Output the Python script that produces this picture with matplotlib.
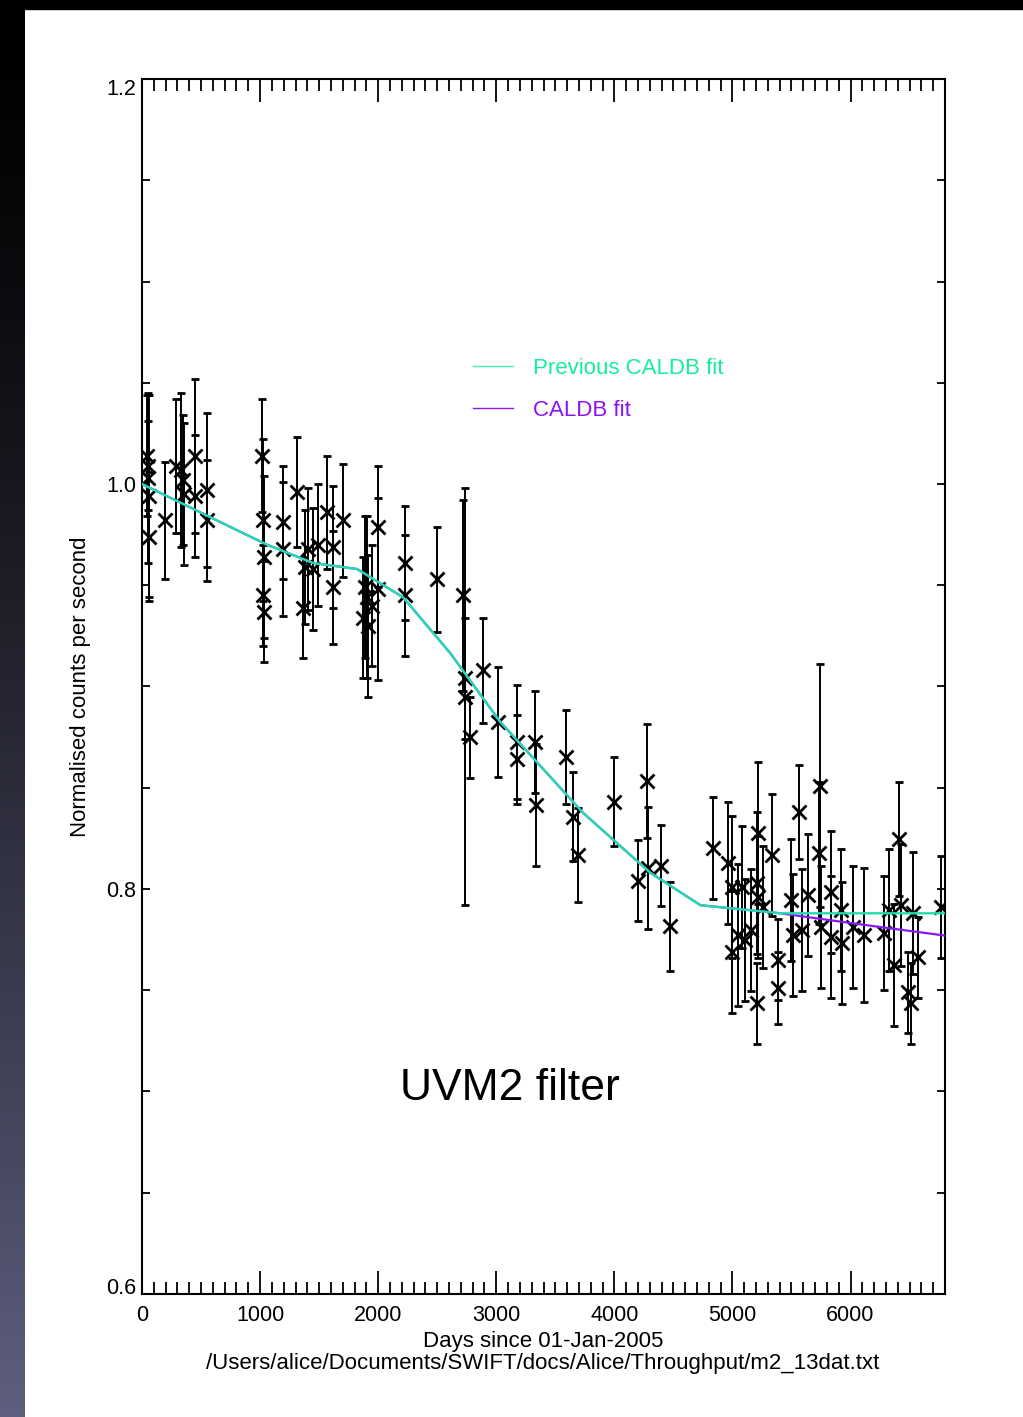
import numpy as np
import matplotlib.pyplot as plt
from matplotlib.patches import Rectangle
from matplotlib.lines import Line2D
from matplotlib.colors import LinearSegmentedColormap
from matplotlib.ticker import MultipleLocator

plt.rcParams['font.family'] = ['Liberation Sans', 'DejaVu Sans']

# measured throughput points: days since 01-Jan-2005, normalised rate, 1-sigma error
days = [45, 50, 55, 58, 62, 195, 288, 330, 347, 356, 449, 449, 551, 551,
        1020, 1025, 1030, 1028, 1032, 1195, 1195, 1314, 1364, 1407, 1381, 1449,
        1492, 1568, 1619, 1619, 1703,
        1890, 1873, 1915, 1949, 1907, 2000, 2000, 2229, 2229, 2500,
        2720, 2737, 2737, 2780, 2890, 3017, 3178, 3178, 3331, 3339, 3593, 3653,
        3695, 4000, 4203, 4280, 4288, 4398, 4475,
        4839, 4966, 5000, 5085, 5000, 5110, 5043, 5153, 5220, 5212, 5220, 5212,
        5339, 5263, 5382, 5382, 5492, 5517, 5560, 5593, 5636, 5738, 5729, 5831,
        5746, 5831, 5916, 5932, 6017, 6110, 6280, 6322, 6407, 6424, 6365, 6526,
        6568, 6483, 6509, 6763]
rate = [1.014, 1.009, 1.003, 0.994, 0.974, 0.982, 1.009, 1.007, 1.002, 0.995,
        1.014, 0.994, 0.997, 0.982,
        1.014, 0.982, 0.964, 0.945, 0.937, 0.981, 0.968, 0.996, 0.939, 0.968,
        0.959, 0.958, 0.970, 0.986, 0.969, 0.949, 0.982,
        0.949, 0.934, 0.930, 0.940, 0.944, 0.979, 0.948, 0.961, 0.945, 0.953,
        0.945, 0.904, 0.895, 0.875, 0.908, 0.8825, 0.8726, 0.864, 0.8726, 0.8415,
        0.8652, 0.8356, 0.8168, 0.843, 0.804, 0.8533, 0.8104, 0.8114, 0.7817,
        0.8202, 0.8128, 0.801, 0.801, 0.7689, 0.7748, 0.7773, 0.7798, 0.8277,
        0.803, 0.796, 0.7437, 0.8168, 0.7911, 0.765, 0.7511, 0.7946, 0.7773,
        0.838, 0.7798, 0.797, 0.8509, 0.8178, 0.7985, 0.7812, 0.7763, 0.7896,
        0.7733, 0.7812, 0.7773, 0.7783, 0.7896, 0.8247, 0.7921, 0.7625, 0.7882,
        0.7664, 0.7491, 0.7437, 0.7911]
err = [0.030, 0.022, 0.042, 0.050, 0.032, 0.029, 0.033, 0.038, 0.032, 0.035,
       0.038, 0.030, 0.038, 0.030,
       0.028, 0.040, 0.040, 0.025, 0.025, 0.028, 0.033, 0.027, 0.025, 0.030,
       0.028, 0.030, 0.030, 0.028, 0.030, 0.028, 0.028,
       0.035, 0.030, 0.035, 0.030, 0.040, 0.030, 0.045, 0.028, 0.030, 0.026,
       0.047, 0.030, 0.103, 0.020, 0.026, 0.027, 0.028, 0.022, 0.025, 0.030,
       0.023, 0.022, 0.023, 0.022, 0.020, 0.028, 0.030, 0.020, 0.022,
       0.025, 0.030, 0.035, 0.030, 0.030, 0.030, 0.035, 0.030, 0.035, 0.035,
       0.030, 0.020, 0.030, 0.030, 0.020, 0.018, 0.030, 0.030, 0.023, 0.030,
       0.030, 0.060, 0.035, 0.030, 0.030, 0.030, 0.030, 0.030, 0.030, 0.033,
       0.028, 0.030, 0.028, 0.030, 0.030, 0.030, 0.020, 0.020, 0.020, 0.025]

# fitted throughput curves
prev_days = [0, 1059, 1449, 1822, 2212, 2610, 3034, 3737, 4305, 4729, 5407, 6800]
prev_vals = [1.000, 0.970, 0.961, 0.958, 0.944, 0.9165, 0.8825, 0.8375, 0.808,
             0.792, 0.788, 0.788]
caldb_days = [0, 1059, 1449, 1822, 2212, 2610, 3034, 3737, 4305, 4729, 5407,
              5900, 6280, 6800]
caldb_vals = [1.000, 0.970, 0.961, 0.958, 0.944, 0.9165, 0.8825, 0.8375, 0.808,
              0.792, 0.788, 0.784, 0.781, 0.777]

yticks = [0.6, 0.8, 1.0, 1.2]

prev_col = '#22dcb0'
caldb_col = '#8a18f2'

fig = plt.figure(figsize=(10.23, 14.17), dpi=100)

# dark desktop border of the screenshot
side = fig.add_axes([0, 0, 25 / 1023, 1])
grad = np.linspace(0, 1, 256)[:, None] ** 1.3
side.imshow(grad, aspect='auto', extent=[0, 1, 0, 1], origin='upper',
            cmap=LinearSegmentedColormap.from_list('bg', ['#000000', '#5e5f7e']))
side.axis('off')
fig.patches.append(Rectangle((0, 1 - 9 / 1417), 1, 9 / 1417,
                             transform=fig.transFigure, color='black'))

ax = fig.add_axes([142 / 1023, 1 - 1294 / 1417, 803 / 1023, 1215 / 1417])
ax.errorbar(days, rate, yerr=err, fmt='x', color='black', ms=10, mew=2.0,
            elinewidth=1.4, capsize=3.0, capthick=1.4, zorder=2)
ax.plot(caldb_days, caldb_vals, color=caldb_col, lw=1.6, zorder=3)
ax.plot(prev_days, prev_vals, color=prev_col, lw=1.7, zorder=4)

ax.set_xlim(0, 6800)
ax.set_ylim(0.6, 1.2)
ax.xaxis.set_major_locator(MultipleLocator(1000))
ax.xaxis.set_minor_locator(MultipleLocator(100))
ax.set_yticks(yticks, [f'{v:.1f}' for v in yticks])
ax.yaxis.set_minor_locator(MultipleLocator(0.05))
ax.tick_params(which='both', direction='in', top=True, right=True,
               width=1.3, color='black', labelsize=15.5)
ax.tick_params(axis='x', which='major', length=16.5, pad=8)
ax.tick_params(axis='x', which='minor', length=8.5)
ax.tick_params(axis='y', which='both', length=6, pad=4)
ylabels = ax.get_yticklabels()
ylabels[0].set_va('baseline')
ylabels[-1].set_va('top')
for s in ax.spines.values():
    s.set_linewidth(1.5)

ax.set_ylabel('Normalised counts per second', fontsize=16)
ax.yaxis.set_label_coords(-0.063, 0.5)
ax.set_xlabel('Days since 01-Jan-2005', fontsize=16)
ax.xaxis.set_label_coords(0.5, -0.0305)
fig.text(543 / 1023, 1 - 1363 / 1417,
         '/Users/alice/Documents/SWIFT/docs/Alice/Throughput/m2_13dat.txt',
         ha='center', va='center', fontsize=16)

ax.text(0.458, 0.1695, 'UVM2 filter', transform=ax.transAxes,
        ha='center', va='center', fontsize=32)

handles = [Line2D([], [], color='#3cf0b8', lw=1.0),
           Line2D([], [], color=caldb_col, lw=1.0)]
leg = ax.legend(handles, ['Previous CALDB fit', 'CALDB fit'], loc='upper left',
                bbox_to_anchor=(0.4122, 0.7705), frameon=False, fontsize=16,
                handlelength=1.8, handletextpad=0.9, labelspacing=0.95,
                borderpad=0, borderaxespad=0)
for t, c in zip(leg.get_texts(), ['#14ee9c', '#8c10f8']):
    t.set_color(c)

fig.savefig('out.png', dpi=100)
